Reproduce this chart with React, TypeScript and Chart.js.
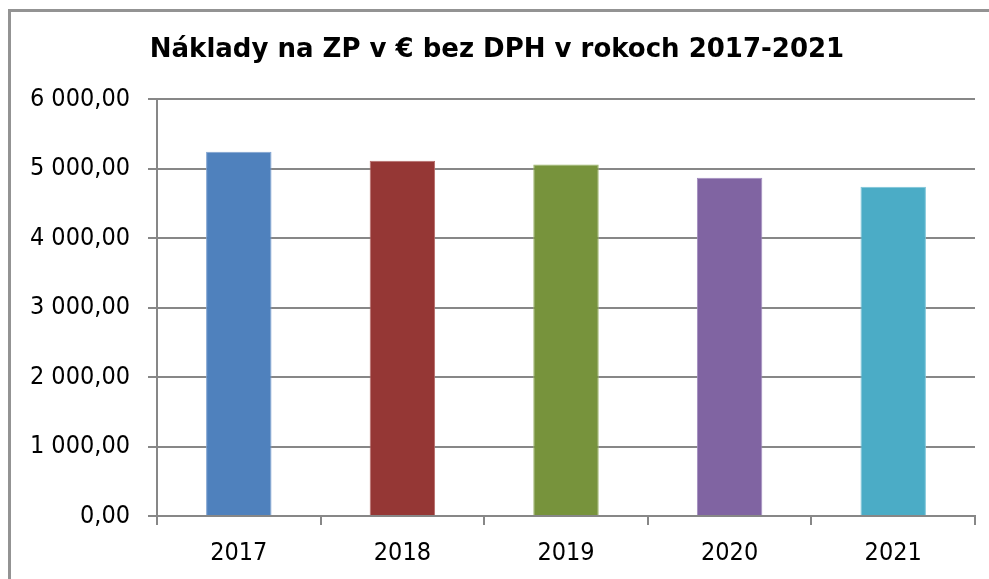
import React, { useEffect, useRef } from "react";
import { Chart, registerables } from "chart.js";

Chart.register(...registerables);

const TITLE = "Náklady na ZP v € bez DPH v rokoch 2017-2021";
const YEARS = ["2017", "2018", "2019", "2020", "2021"];
const COSTS = [5245, 5115, 5060, 4870, 4740];
const BAR_COLORS = ["#4F81BD", "#953735", "#77933C", "#8064A2", "#4BACC6"];
const BAR_BORDERS = ["#7FA3D0", "#B56A68", "#9AB367", "#A08BBE", "#7CC4D8"];
const Y_MIN = 0;
const Y_MAX = 6000;
const Y_STEP = 1000;

const TICK_FONT = "'DejaVu Sans Condensed', 'Noto Sans', sans-serif";
const TITLE_FONT = "'DejaVu Sans', sans-serif";
const GRID = "#878787";

function formatSk(v: number): string {
  const fixed = Math.abs(v).toFixed(2);
  const [intPart, dec] = fixed.split(".");
  const grouped = intPart.replace(/\B(?=(\d{3})+(?!\d))/g, " ");
  return (v < 0 ? "-" : "") + grouped + "," + dec;
}

const frame = {
  id: "frame",
  beforeDraw(chart: any) {
    const ctx = chart.ctx;
    ctx.save();
    ctx.strokeStyle = "#939393";
    ctx.lineWidth = 3;
    ctx.beginPath();
    ctx.moveTo(9.5, chart.height + 5);
    ctx.lineTo(9.5, 10.5);
    ctx.lineTo(chart.width + 5, 10.5);
    ctx.stroke();
    ctx.restore();
  },
};

export default function App() {
  const ref = useRef<HTMLCanvasElement | null>(null);

  useEffect(() => {
    if (!ref.current) return;
    const chart = new Chart(ref.current, {
      type: "bar",
      data: {
        labels: YEARS,
        datasets: [
          {
            data: COSTS,
            backgroundColor: BAR_COLORS,
            borderColor: BAR_BORDERS,
            borderWidth: 1,
            barPercentage: 0.4,
            categoryPercentage: 1,
          },
        ],
      },
      plugins: [frame],
      options: {
        responsive: false,
        animation: false,
        devicePixelRatio: 1,
        layout: { padding: { left: 19, right: 14, top: 0, bottom: 0 } },
        plugins: {
          legend: { display: false },
          tooltip: { enabled: false },
          title: {
            display: true,
            text: TITLE,
            color: "#000",
            font: { family: TITLE_FONT, size: 26, weight: "bold", lineHeight: 1.2 },
            padding: { top: 35, bottom: 33 },
          },
        },
        scales: {
          x: {
            grid: {
              offset: true,
              drawOnChartArea: false,
              drawTicks: true,
              tickLength: 9,
              color: GRID,
              lineWidth: 2,
            },
            border: { display: true, color: GRID, width: 2 },
            ticks: {
              color: "#000",
              font: { family: TICK_FONT, size: 25 },
              padding: 13,
              maxRotation: 0,
            },
            afterFit: (s: any) => {
              s.height = 63;
            },
          },
          y: {
            min: Y_MIN,
            max: Y_MAX,
            grid: {
              color: GRID,
              lineWidth: 2,
              drawTicks: true,
              tickLength: 9,
            },
            border: { display: true, color: GRID, width: 2 },
            ticks: {
              stepSize: Y_STEP,
              color: "#000",
              font: { family: TICK_FONT, size: 25 },
              padding: 18,
              callback: (v: any) => formatSk(Number(v)),
            },
            afterFit: (s: any) => {
              s.width = 138;
            },
          },
        },
      },
    });
    return () => chart.destroy();
  }, []);

  return (
    <div
      style={{
        position: "absolute",
        left: 0,
        top: 0,
        width: 989,
        height: 579,
        background: "#fff",
        overflow: "hidden",
      }}
    >
      <canvas
        ref={ref}
        width={989}
        height={579}
        style={{ position: "absolute", left: 0, top: 0, width: 989, height: 579 }}
      />
    </div>
  );
}
